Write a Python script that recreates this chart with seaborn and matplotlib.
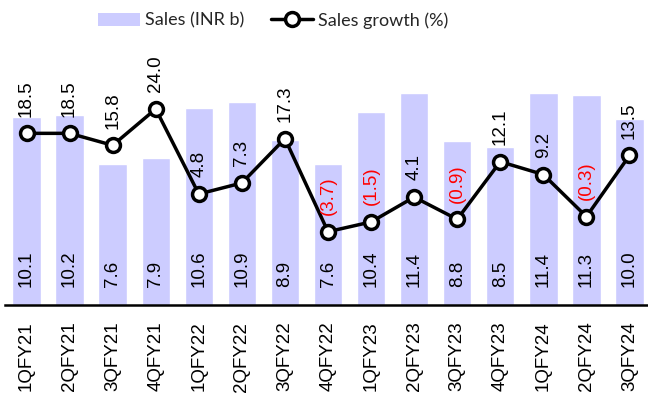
import matplotlib
matplotlib.use("Agg")
import matplotlib.pyplot as plt
import seaborn as sns
import pandas as pd
from matplotlib.lines import Line2D
from matplotlib.patches import Patch

quarters = ["1QFY21", "2QFY21", "3QFY21", "4QFY21", "1QFY22", "2QFY22", "3QFY22", "4QFY22",
            "1QFY23", "2QFY23", "3QFY23", "4QFY23", "1QFY24", "2QFY24", "3QFY24"]
sales = [10.1, 10.2, 7.6, 7.9, 10.6, 10.9, 8.9, 7.6, 10.4, 11.4, 8.8, 8.5, 11.4, 11.3, 10.0]
growth = [18.5, 18.5, 15.8, 24.0, 4.8, 7.3, 17.3, -3.7, -1.5, 4.1, -0.9, 12.1, 9.2, -0.3, 13.5]

df = pd.DataFrame({"Quarter": quarters, "Sales": sales, "Growth": growth})

sns.set_theme(style="white")
plt.rcParams["font.family"] = ["Liberation Sans", "DejaVu Sans"]

fig = plt.figure(figsize=(6.48, 4.03), dpi=100)
W, H = 648, 403
ax = fig.add_axes([5 / W, (H - 305) / H, 643 / W, 270 / H])

bar_color = "#CCCCFF"
sns.barplot(data=df, x="Quarter", y="Sales", color=bar_color, width=0.66,
            saturation=1, ax=ax, order=quarters)
ax.set_xlim(-0.5, 14.43)
ax.set_ylim(0, 14.52)

ax2 = ax.twinx()
sns.lineplot(data=df, x="Quarter", y="Growth", ax=ax2, sort=False, color="black",
             linewidth=2.5, marker="o", markersize=10, markerfacecolor="white",
             markeredgecolor="black", markeredgewidth=2.5)
ax2.set_xlim(-0.5, 14.43)
ax2.set_ylim(-20.25, 40.7)

for i, v in enumerate(sales):
    ax.annotate(f"{v:.1f}", (i, 0), xytext=(0, 13), textcoords="offset points",
                rotation=90, ha="center", va="bottom", fontsize=13.5, color="black")

for i, g in enumerate(growth):
    txt = f"({abs(g):.1f})" if g < 0 else f"{g:.1f}"
    col = "#FF0000" if g < 0 else "black"
    ax2.annotate(txt, (i, g), xytext=(0, 12), textcoords="offset points",
                 rotation=90, ha="center", va="bottom", fontsize=13.5, color=col)

for a in (ax, ax2):
    for s in ("top", "left", "right"):
        a.spines[s].set_visible(False)
    a.set_yticks([])
    a.set_ylabel("")
    a.set_xlabel("")
ax2.spines["bottom"].set_visible(False)
ax.spines["bottom"].set_color("black")
ax.spines["bottom"].set_linewidth(1.8)
ax.tick_params(axis="x", length=0, pad=12, labelsize=13.5, rotation=90, colors="black")
ax2.tick_params(axis="x", length=0, labelbottom=False)

handles = [Patch(facecolor=bar_color, edgecolor="none"),
           Line2D([0], [0], color="black", linewidth=2.5, marker="o", markersize=10,
                  markerfacecolor="white", markeredgecolor="black", markeredgewidth=2.5)]
leg = fig.legend(handles, ["Sales (INR b)", "Sales growth (%)"], loc="upper center",
                 bbox_to_anchor=(0.422, 1.01), ncol=2, frameon=False,
                 prop={"family": ["Lato", "Liberation Sans"], "size": 13},
                 handlelength=2.3, handletextpad=0.3, columnspacing=1.5)

fig.savefig("out.png", dpi=100)
